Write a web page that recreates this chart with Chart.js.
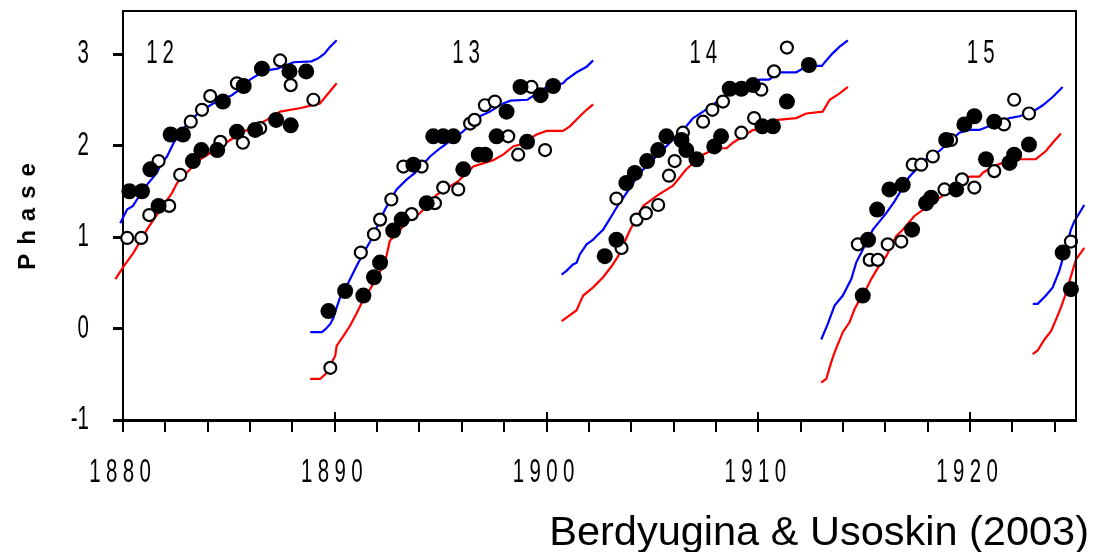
<!DOCTYPE html>
<html>
<head>
<meta charset="utf-8">
<script src="https://cdn.jsdelivr.net/npm/chart.js@4.4.1/dist/chart.umd.min.js"></script>
<style>
html,body{margin:0;padding:0;background:#fff;}
#wrap{width:1096px;height:552px;position:relative;}
</style>
</head>
<body>
<div id="wrap"><canvas id="c"></canvas></div>
<script>
// ---------- DATA ----------
const xLabelYears = [1880, 1890, 1900, 1910, 1920];
const yLabelValues = [-1, 0, 1, 2, 3];
const yAxisTitle = 'Phase';
const citation = 'Berdyugina & Usoskin (2003)';
const cycleNames = ['12', '13', '14', '15'];
const cycleLabelYears = [1881.75, 1896.2, 1907.4, 1920.5];
const cycleLabelPhase = 2.9;

// model curves (blue / red), [year, phase]
const blue12 = [[1879.64,1.05],[1879.87,1.15],[1880.19,1.30],[1880.47,1.34],[1880.66,1.41],[1881.13,1.57],[1881.6,1.70],[1881.76,1.78],[1882.08,1.88],[1882.31,1.99],[1882.39,2.03],[1882.94,2.21],[1883.49,2.34],[1884.12,2.44],[1884.27,2.46],[1885.14,2.55],[1885.5,2.61],[1886.0,2.72],[1886.48,2.79],[1887.0,2.83],[1887.3,2.84],[1888.05,2.91],[1888.9,2.92],[1889.2,2.95],[1889.5,3.0],[1889.75,3.07],[1890.09,3.15]];
const red12 = [[1879.64,0.54],[1880.03,0.68],[1880.5,0.83],[1881.13,1.08],[1881.76,1.30],[1882.31,1.48],[1882.55,1.59],[1883.17,1.74],[1883.65,1.85],[1884.27,1.94],[1885.06,2.06],[1885.85,2.17],[1886.79,2.28],[1887.42,2.37],[1888.4,2.41],[1889.3,2.46],[1889.62,2.55],[1890.09,2.68]];
const blue13 = [[1888.84,-0.04],[1889.39,-0.04],[1889.55,-0.01],[1889.79,0.05],[1889.94,0.12],[1890.09,0.23],[1890.25,0.34],[1890.64,0.50],[1890.96,0.65],[1891.27,0.79],[1891.67,0.95],[1892.37,1.30],[1892.92,1.52],[1893.4,1.63],[1893.79,1.70],[1894.5,1.88],[1894.97,1.97],[1895.99,2.14],[1896.85,2.32],[1897.33,2.37],[1897.95,2.46],[1898.3,2.49],[1899.1,2.50],[1900.0,2.64],[1900.78,2.68],[1900.94,2.72],[1901.42,2.80],[1901.89,2.86],[1902.2,2.93]];
const red13 = [[1888.84,-0.55],[1889.31,-0.55],[1889.55,-0.50],[1890.02,-0.30],[1890.09,-0.19],[1890.41,-0.08],[1890.72,0.03],[1891.04,0.17],[1891.35,0.32],[1891.67,0.43],[1892.37,0.72],[1892.6,0.96],[1893.45,1.17],[1894.02,1.26],[1894.81,1.46],[1895.83,1.61],[1896.54,1.77],[1897.48,1.84],[1897.95,1.90],[1898.42,1.99],[1898.74,2.01],[1899.53,2.12],[1900.0,2.16],[1900.78,2.16],[1901.1,2.21],[1901.57,2.32],[1901.89,2.39],[1902.2,2.45]];
const blue14 = [[1900.71,0.59],[1900.94,0.63],[1901.25,0.70],[1901.42,0.72],[1901.57,0.81],[1901.89,0.92],[1902.2,0.97],[1902.36,1.01],[1902.67,1.08],[1903.07,1.23],[1903.3,1.32],[1903.77,1.48],[1904.4,1.70],[1906.6,2.21],[1906.92,2.30],[1907.39,2.37],[1908.18,2.50],[1909.12,2.64],[1910.06,2.72],[1910.5,2.72],[1911.0,2.80],[1911.79,2.80],[1912.1,2.84],[1912.74,2.87],[1913.0,2.87],[1913.21,2.93],[1913.52,3.01],[1913.84,3.08],[1914.23,3.15]];
const red14 = [[1900.71,0.08],[1900.94,0.12],[1901.42,0.20],[1901.57,0.28],[1901.73,0.36],[1902.2,0.45],[1902.67,0.56],[1903.07,0.68],[1903.38,0.79],[1903.93,1.07],[1904.56,1.34],[1905.27,1.46],[1905.97,1.56],[1906.6,1.74],[1907.39,1.90],[1908.0,1.97],[1908.5,1.97],[1908.8,2.03],[1909.75,2.17],[1910.0,2.17],[1910.9,2.28],[1911.79,2.30],[1912.26,2.35],[1913.04,2.37],[1913.37,2.50],[1913.84,2.57],[1914.23,2.64]];
const blue15 = [[1912.97,-0.12],[1913.28,0.05],[1913.6,0.25],[1913.99,0.36],[1914.39,0.54],[1914.62,0.72],[1915.41,1.08],[1916.04,1.26],[1916.43,1.39],[1917.13,1.66],[1917.92,1.85],[1918.55,1.94],[1919.49,2.14],[1919.97,2.17],[1920.44,2.17],[1921.86,2.30],[1922.33,2.32],[1922.96,2.37],[1923.43,2.44],[1923.9,2.53],[1924.37,2.64]];
const red15 = [[1912.97,-0.59],[1913.21,-0.55],[1913.44,-0.37],[1913.6,-0.26],[1913.99,-0.04],[1914.31,0.07],[1914.54,0.21],[1914.7,0.28],[1915.09,0.43],[1915.33,0.54],[1915.64,0.66],[1916.04,0.79],[1916.51,1.01],[1916.82,1.08],[1917.37,1.23],[1919.97,1.66],[1920.44,1.66],[1920.59,1.70],[1921.07,1.77],[1921.54,1.81],[1922.2,1.85],[1923.1,1.85],[1923.58,1.94],[1923.9,2.03],[1924.29,2.13]];
const blue16 = [[1922.96,0.27],[1923.19,0.27],[1923.58,0.36],[1923.9,0.45],[1924.21,0.63],[1924.37,0.76],[1924.76,1.08],[1924.92,1.17],[1925.39,1.35]];
const red16 = [[1922.96,-0.28],[1923.19,-0.24],[1923.51,-0.12],[1923.82,-0.03],[1924.06,0.10],[1924.29,0.23],[1924.53,0.39],[1924.76,0.57],[1924.99,0.75],[1925.39,0.88]];

// observations: open circles / filled markers, [year, phase]
const open12 = [[1880.2,0.99],[1880.86,0.99],[1881.24,1.24],[1882.18,1.34],[1882.7,1.68],[1881.68,1.83],[1883.2,2.26],[1883.73,2.39],[1884.12,2.54],[1885.38,2.68],[1887.42,2.93],[1887.92,2.66],[1888.99,2.50],[1885.66,2.03],[1886.48,2.19],[1884.6,2.04]];
const filled12 = [[1880.3,1.50],[1880.9,1.50],[1881.29,1.74],[1881.68,1.34],[1882.25,2.12],[1882.83,2.12],[1883.3,1.83],[1883.7,1.95],[1884.45,1.95],[1884.72,2.48],[1885.7,2.65],[1885.38,2.15],[1886.24,2.17],[1886.56,2.84],[1887.23,2.28],[1887.86,2.81],[1888.65,2.81],[1887.92,2.22]];
const open13 = [[1889.79,-0.43],[1891.23,0.83],[1891.85,1.03],[1892.14,1.19],[1893.63,1.25],[1892.67,1.41],[1894.73,1.37],[1895.12,1.54],[1895.83,1.52],[1893.24,1.77],[1894.1,1.77],[1896.39,2.24],[1896.6,2.28],[1897.09,2.44],[1897.56,2.48],[1898.19,2.10],[1898.66,1.90],[1899.93,1.95],[1899.29,2.64]];
const filled13 = [[1889.7,0.19],[1890.49,0.41],[1891.35,0.36],[1891.85,0.56],[1892.14,0.72],[1892.76,1.07],[1893.16,1.19],[1894.34,1.37],[1896.07,1.74],[1896.8,1.90],[1897.1,1.90],[1893.71,1.79],[1894.65,2.10],[1895.12,2.10],[1895.6,2.10],[1898.11,2.37],[1897.64,2.10],[1899.08,2.04],[1898.77,2.64],[1899.72,2.55],[1900.31,2.65]];
const open14 = [[1903.54,0.88],[1904.25,1.19],[1904.69,1.26],[1905.27,1.35],[1903.3,1.42],[1906.44,2.14],[1906.05,1.83],[1905.78,1.67],[1907.39,2.26],[1907.83,2.39],[1908.33,2.48],[1910.14,2.61],[1910.74,2.81],[1911.35,3.07],[1909.8,2.30],[1909.2,2.14]];
const filled14 = [[1902.75,0.79],[1903.3,0.97],[1903.77,1.59],[1904.17,1.70],[1904.75,1.83],[1905.27,1.95],[1905.66,2.10],[1906.37,2.06],[1906.6,1.95],[1907.08,1.85],[1907.92,1.99],[1908.24,2.10],[1908.65,2.62],[1909.2,2.62],[1909.75,2.66],[1912.39,2.88],[1911.35,2.48],[1910.19,2.21],[1910.69,2.21]];
const open15 = [[1914.7,0.92],[1915.26,0.75],[1915.64,0.75],[1916.11,0.92],[1916.75,0.95],[1917.29,1.79],[1917.69,1.79],[1918.24,1.88],[1919.1,2.06],[1921.6,2.23],[1922.08,2.50],[1922.78,2.35],[1921.14,1.72],[1920.2,1.54],[1919.62,1.63],[1918.79,1.52]];
const filled15 = [[1914.93,0.36],[1915.18,0.97],[1915.61,1.30],[1916.19,1.52],[1916.82,1.57],[1917.26,1.08],[1917.92,1.37],[1918.16,1.43],[1918.87,2.06],[1919.73,2.23],[1920.2,2.32],[1921.14,2.26],[1922.78,2.01],[1922.08,1.90],[1921.86,1.81],[1920.75,1.85],[1919.34,1.52]];
const open16 = [[1924.76,0.95]];
const filled16 = [[1924.37,0.83],[1924.76,0.43]];

// ---------- CHART ----------
const pts = arr => arr.map(([x, y]) => ({x, y}));
const curve = (arr, color) => ({
  data: pts(arr), showLine: true, borderColor: color, borderWidth: 2.2,
  pointRadius: 0, pointHoverRadius: 0, fill: false, clip: false, order: 2
});

const SX = 0.62;
function condensed(ctx, text, x, y, align, spacing) {
  ctx.save();
  ctx.font = '33px "Liberation Sans", Arial, sans-serif';
  ctx.fillStyle = '#000';
  ctx.textAlign = 'left';
  ctx.textBaseline = 'alphabetic';
  const hasLS = 'letterSpacing' in ctx;
  const ls = hasLS ? spacing : 0;
  if (hasLS) ctx.letterSpacing = ls + 'px';
  const w = ctx.measureText(text).width - ls;
  ctx.translate(x, y);
  ctx.scale(SX, 1);
  const start = align === 'center' ? -w / 2 : (align === 'right' ? -w : 0);
  ctx.fillText(text, start, 0);
  ctx.restore();
}
const alignPx = (p, w) => Math.round(p - w / 2) + w / 2;

const decor = {
  id: 'decor',
  afterDraw(chart) {
    const {ctx, chartArea: a, scales: {x, y}} = chart;
    ctx.save();
    ctx.strokeStyle = '#000';
    ctx.lineWidth = 2;
    ctx.beginPath();
    ctx.moveTo(a.left - 1, a.top);
    ctx.lineTo(a.right, a.top);
    ctx.lineTo(a.right, a.bottom);
    ctx.stroke();
    // longer decade ticks (extend above the axis)
    x.ticks.forEach(t => {
      if (xLabelYears.includes(t.value) && t.value !== x.min) {
        const px = alignPx(x.getPixelForValue(t.value), 2);
        ctx.beginPath();
        ctx.moveTo(px, a.bottom - 8);
        ctx.lineTo(px, a.bottom);
        ctx.stroke();
      }
    });
    ctx.restore();
    // x tick labels
    x.ticks.forEach(t => {
      if (xLabelYears.includes(t.value)) {
        condensed(ctx, String(t.value), x.getPixelForValue(t.value) - 3, a.bottom + 62, 'center', 8.6);
      }
    });
    // y tick labels
    y.ticks.forEach(t => {
      if (yLabelValues.includes(t.value)) {
        condensed(ctx, String(t.value), 89, y.getPixelForValue(t.value) + 9, 'right', 0);
      }
    });
    // cycle numbers
    cycleNames.forEach((n, i) => {
      condensed(ctx, n, x.getPixelForValue(cycleLabelYears[i]), y.getPixelForValue(cycleLabelPhase), 'center', 8);
    });
    // y axis title
    ctx.save();
    ctx.fillStyle = '#000';
    ctx.font = 'bold 24px "Liberation Sans", Arial, sans-serif';
    ctx.textAlign = 'left';
    ctx.textBaseline = 'middle';
    const hasLS = 'letterSpacing' in ctx;
    const ls = hasLS ? 9 : 0;
    if (hasLS) ctx.letterSpacing = ls + 'px';
    const tw = ctx.measureText(yAxisTitle).width - ls;
    ctx.translate(28, (a.top + a.bottom) / 2 + 1);
    ctx.rotate(-Math.PI / 2);
    ctx.fillText(yAxisTitle, -tw / 2, 0);
    ctx.restore();
    // citation
    ctx.save();
    ctx.fillStyle = '#000';
    ctx.font = '41.5px "Liberation Sans", Arial, sans-serif';
    ctx.textAlign = 'right';
    ctx.textBaseline = 'alphabetic';
    ctx.fillText(citation, 1089, 545);
    ctx.restore();
  }
};

const openAll = [...open12, ...open13, ...open14, ...open15, ...open16];
const filledAll = [...filled12, ...filled13, ...filled14, ...filled15, ...filled16];

new Chart(document.getElementById('c'), {
  type: 'scatter',
  data: {
    datasets: [
      {data: pts(filledAll), pointRadius: 8, pointHoverRadius: 8, pointBackgroundColor: '#000', pointBorderColor: '#000', pointBorderWidth: 0, showLine: false, clip: false, order: 0},
      {data: pts(openAll), pointRadius: 6, pointHoverRadius: 6, pointBackgroundColor: '#fff', pointBorderColor: '#000', pointBorderWidth: 2.2, showLine: false, clip: false, order: 1},
      curve(blue12, '#0000ff'), curve(red12, '#ff0000'),
      curve(blue13, '#0000ff'), curve(red13, '#ff0000'),
      curve(blue14, '#0000ff'), curve(red14, '#ff0000'),
      curve(blue15, '#0000ff'), curve(red15, '#ff0000'),
      curve(blue16, '#0000ff'), curve(red16, '#ff0000')
    ]
  },
  options: {
    responsive: true,
    maintainAspectRatio: false,
    animation: false,
    events: [],
    layout: {padding: {left: 113, top: 11, right: 20, bottom: 120}},
    plugins: {legend: {display: false}, tooltip: {enabled: false}, title: {display: false}},
    scales: {
      x: {
        type: 'linear', position: 'bottom', min: 1880, max: 1925, bounds: 'data',
        ticks: {display: false, stepSize: 2, includeBounds: false},
        afterBuildTicks: s => { s.ticks = s.ticks.filter(t => Math.abs(t.value % 2) < 1e-9); },
        afterFit: s => { s.height = 12; },
        grid: {display: true, drawOnChartArea: false, drawTicks: true, tickLength: 12, lineWidth: 2, color: '#000'},
        border: {display: true, color: '#000', width: 3}
      },
      y: {
        type: 'linear', position: 'left', min: -1, max: 3.47, bounds: 'data',
        ticks: {display: false, stepSize: 1, includeBounds: false},
        afterBuildTicks: s => { s.ticks = s.ticks.filter(t => Number.isInteger(t.value)); },
        afterFit: s => { s.width = 10; },
        grid: {display: true, drawOnChartArea: false, drawTicks: true, tickLength: 10, lineWidth: 3, color: '#000'},
        border: {display: true, color: '#000', width: 2}
      }
    }
  },
  plugins: [decor]
});
</script>
</body>
</html>
